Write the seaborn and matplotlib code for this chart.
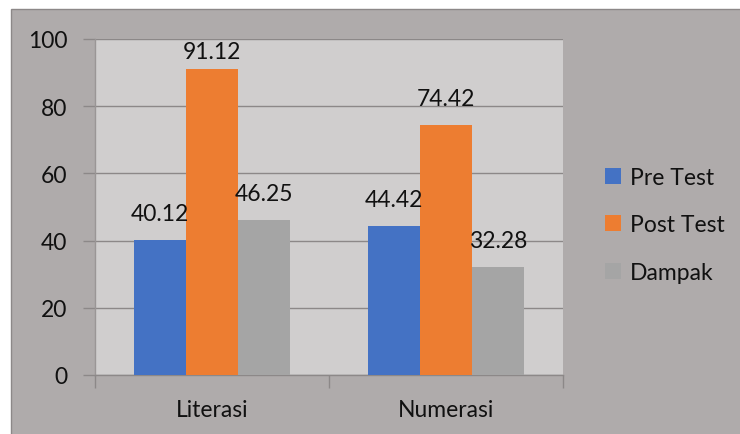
import matplotlib
matplotlib.use("Agg")
import matplotlib.pyplot as plt
from matplotlib.patches import Rectangle
import seaborn as sns
import pandas as pd

categories = ["Literasi", "Numerasi"]
series = ["Pre Test", "Post Test", "Dampak"]
pre_test = [40.12, 44.42]
post_test = [91.12, 74.42]
dampak = [46.25, 32.28]
y_ticks = [0, 20, 40, 60, 80, 100]

colors = ["#4472c4", "#ed7d31", "#a5a5a5"]

rows = []
for name, vals in zip(series, [pre_test, post_test, dampak]):
    for cat, v in zip(categories, vals):
        rows.append({"Kategori": cat, "Seri": name, "Nilai": v})
df = pd.DataFrame(rows)

sns.set_theme(style="white")
plt.rcParams["font.family"] = ["Lato", "DejaVu Sans"]

FS = 16.5
W, H = 740, 435
fig = plt.figure(figsize=(W / 100, H / 100), dpi=100)
fig.patch.set_facecolor("white")

# Chart-area background with a thin frame on its top and left
fig.add_artist(Rectangle((11 / W, -0.01), 1.0, (H - 10) / H + 0.01,
                         transform=fig.transFigure, facecolor="#afabab",
                         edgecolor="#8c8888", linewidth=1.0, zorder=0))

ax = fig.add_axes([95 / W, (H - 376) / H, (563 - 95) / W, (376 - 40) / H])
ax.set_facecolor("#d0cece")

sns.barplot(data=df, x="Kategori", y="Nilai", hue="Seri", hue_order=series,
            palette=colors, width=0.667, saturation=1, ax=ax, legend=True,
            edgecolor="none", linewidth=0, zorder=3)

# Value labels above each bar; labels near the top are pulled closer so they
# stay inside the plotting area
for cont in ax.containers:
    for bar in cont:
        val = bar.get_height()
        off = 5 if val > 85 else 11.5
        ax.annotate(f"{val:.2f}", xy=(bar.get_x() + bar.get_width() / 2, val),
                    xytext=(0, off), textcoords="offset points",
                    ha="center", va="bottom", fontsize=FS, color="#111111")

ax.set_ylim(0, 100)
ax.set_xlim(-0.5, 1.5)
ax.set_yticks(y_ticks)
ax.set_yticklabels([str(t) for t in y_ticks], fontsize=FS, color="#111111")
ax.yaxis.grid(True, color="#8c8888", linewidth=1.0, zorder=0)
ax.set_axisbelow(True)
ax.tick_params(axis="y", length=9, width=1.0, color="#8c8888", pad=11, left=True)

ax.set_xticks([0, 1])
ax.set_xticklabels(categories, fontsize=FS, color="#111111")
ax.tick_params(axis="x", which="major", length=0, pad=17)
ax.set_xticks([-0.5, 0.5, 1.5], minor=True)
ax.tick_params(axis="x", which="minor", length=9, width=1.0, color="#8c8888",
               bottom=True)
ax.set_xlabel("")
ax.set_ylabel("")

for side in ["top", "right"]:
    ax.spines[side].set_visible(False)
ax.spines["left"].set_color("#9a9696")
ax.spines["bottom"].set_color("#8c8888")
ax.spines["left"].set_linewidth(1.0)
ax.spines["bottom"].set_linewidth(1.0)

handles, labels = ax.get_legend_handles_labels()
ax.get_legend().remove()
fig.legend(handles, labels, loc="center left",
           bbox_to_anchor=(584 / W, 1 - 226 / H), frameon=False,
           fontsize=FS, handlelength=0.7, handleheight=0.7,
           handletextpad=0.4, labelspacing=1.15, labelcolor="#111111")

fig.savefig("out.png", dpi=100)
